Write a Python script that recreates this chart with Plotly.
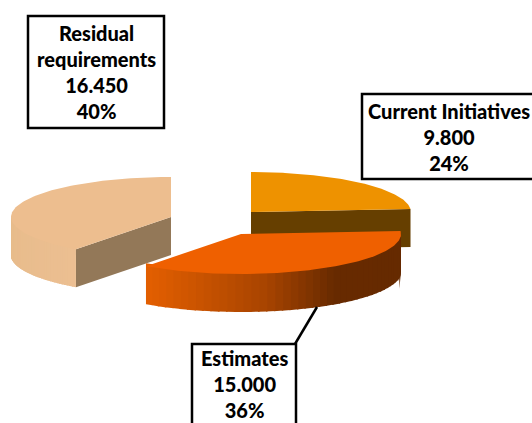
import numpy as np
import plotly.graph_objects as go

# Data
categories = ["Current Initiatives", "Estimates", "Residual requirements"]
label_lines = ["Current Initiatives", "Estimates", "Residual<br>requirements"]
values = [9800, 15000, 16450]

# Style / layout of the drawing
W, H = 532, 423
RX, RY, DEPTH = 160, 40, 38
centers = [(251, 212), (241, 234), (171, 217)]
top_colors = ["#EE9200", "#EF6000", "#EDBE8F"]
cut_colors = ["#663F00", None, "#937858"]
side_stops = [
    None,
    [(146, (228, 95, 0)), (266, (168, 68, 0)), (335, (103, 42, 0)), (411, (102, 42, 0))],
    [(11, (232, 188, 140)), (76, (236, 191, 146))],
]
boxes = [(362, 94, 545, 179), (192, 344, 296, 440), (28, 16, 164, 128)]
label_pos = [(449, 137), (244, 384), (96, 72)]
leader = (317, 307, 295, 344)

total = sum(values)
fractions = [v / total for v in values]
edges = np.cumsum([0] + fractions) * 2 * np.pi


def pt(c, a):
    return c[0] + RX * np.sin(a), c[1] - RY * np.cos(a)


def grad(stops, x):
    xs = [s[0] for s in stops]
    rgb = [float(np.interp(x, xs, [s[1][i] for s in stops])) for i in range(3)]
    return "rgb(%d,%d,%d)" % tuple(round(v) for v in rgb)


def poly(fig, xs, ys, color):
    fig.add_trace(go.Scatter(
        x=list(xs), y=list(ys), mode="lines", fill="toself", fillcolor=color,
        line=dict(color=color, width=0), hoverinfo="skip", showlegend=False))


fig = go.Figure()
for i in (2, 0, 1):
    c, a0, a1 = centers[i], edges[i], edges[i + 1]
    # outer wall, only the part facing the viewer
    lo, hi = max(a0, np.pi / 2), min(a1, 3 * np.pi / 2)
    if side_stops[i] and hi > lo:
        angs = np.linspace(lo, hi, 45)
        x_end = pt(c, hi)[0]
        for p, q in zip(angs[:-1], angs[1:]):
            x0, y0 = pt(c, p)
            x1, y1 = pt(c, q)
            # each strip overlaps the next one, and reaches under the top face
            t = min(1.5, x1 - x_end)
            xo = x1 - t
            yo = y1 + (y1 - y0) / max(x0 - x1, 1e-6) * t
            poly(fig, [x0, xo, xo, x0, x0],
                 [y0 - 3, yo - 3, yo + DEPTH, y0 + DEPTH, y0 - 3],
                 grad(side_stops[i], (x0 + x1) / 2))
    # cut wall facing the viewer
    if cut_colors[i]:
        a = a1 if i == 0 else a0
        x0, y0 = pt(c, a)
        poly(fig, [c[0], x0, x0, c[0], c[0]],
             [c[1], y0, y0 + DEPTH, c[1] + DEPTH, c[1]], cut_colors[i])
    # top face
    angs = np.linspace(a0, a1, 120)
    px, py = pt(c, angs)
    poly(fig, [c[0], *px, c[0]], [c[1], *py, c[1]], top_colors[i])

shapes = [dict(type="line", x0=leader[0], y0=leader[1], x1=leader[2], y1=leader[3],
               line=dict(color="black", width=2.5))]
for b in boxes:
    shapes.append(dict(type="rect", x0=b[0], y0=b[1], x1=b[2], y1=b[3],
                       line=dict(color="black", width=2.5), fillcolor="white"))

annotations = []
for lab, v, f, pos in zip(label_lines, values, fractions, label_pos):
    txt = f"{lab}<br>{v:,.0f}".replace(",", ".") + f"<br>{round(f * 100)}%"
    annotations.append(dict(
        x=pos[0], y=pos[1], xref="x", yref="y", showarrow=False, align="center",
        text=txt,
        font=dict(family="Lato", size=20, color="black", weight=900)))

fig.update_layout(
    width=W, height=H, margin=dict(l=0, r=0, t=0, b=0),
    paper_bgcolor="white", plot_bgcolor="white", showlegend=False,
    xaxis=dict(range=[0, W], visible=False, fixedrange=True),
    yaxis=dict(range=[H, 0], visible=False, fixedrange=True),
    shapes=shapes, annotations=annotations,
)
fig.write_html("out.html", config=dict(displayModeBar=False),
               post_script="document.body.style.margin='0';document.body.style.overflow='hidden';")
